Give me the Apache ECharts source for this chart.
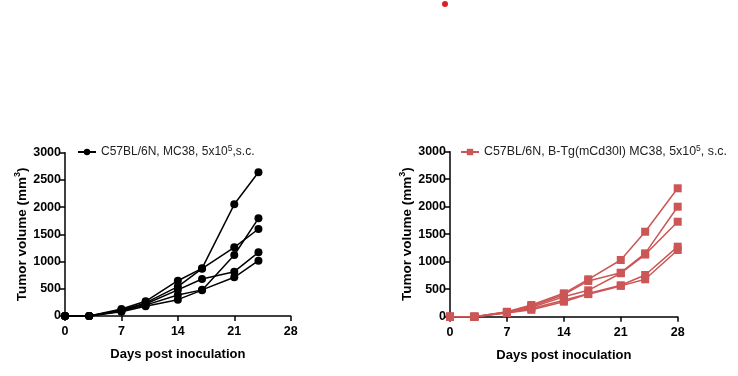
<!DOCTYPE html>
<html><head><meta charset="utf-8">
<script src="https://cdn.jsdelivr.net/npm/echarts@6/dist/echarts.min.js"></script>
<style>html,body{margin:0;padding:0;background:#fff}#c{width:738px;height:376px}</style>
</head><body><div id="c"></div>
<script>
const daysLeft = [0, 3, 7, 10, 14, 17, 21, 24];
const left1 = [0, 0, 130, 270, 648, 876, 2052, 2640];
const left2 = [0, 0, 110, 240, 540, 870, 1262, 1598];
const left3 = [0, 0, 100, 220, 480, 680, 814, 1170];
const left4 = [0, 0, 80, 180, 300, 475, 1120, 1795];
const left5 = [0, 0, 90, 200, 386, 480, 711, 1016];

const daysRight = [0, 3, 7, 10, 14, 17, 21, 24, 28];
const right1 = [0, 0, 90, 213, 425, 680, 1031, 1545, 2335];
const right2 = [0, 0, 85, 190, 400, 650, 800, 1152, 2000];
const right3 = [0, 0, 80, 170, 364, 480, 790, 1130, 1727];
const right4 = [0, 0, 70, 150, 300, 420, 571, 758, 1273];
const right5 = [0, 0, 65, 125, 273, 410, 560, 680, 1213];

const xTicks = [0, 7, 14, 21, 28];
const yTicks = [0, 500, 1000, 1500, 2000, 2500, 3000];
const leftName = 'C57BL/6N, MC38, 5x10^5,s.c.';
const rightName = 'C57BL/6N, B-Tg(mCd30l) MC38, 5x10^5, s.c.';

const BLACK = '#000';
const RED = '#cc5555';
const FONT = 'Liberation Sans, Arial, sans-serif';

function pairs(days, vals) { return days.map((d, i) => [d, vals[i]]); }

function xAxis(gi) {
  return {
    gridIndex: gi, type: 'value', min: xTicks[0], max: xTicks[xTicks.length - 1], interval: 7,
    name: 'Days post inoculation', nameLocation: 'middle', nameGap: 32,
    nameTextStyle: { fontFamily: FONT, fontWeight: 'bold', fontSize: 13, color: BLACK },
    axisLine: { lineStyle: { color: BLACK, width: 1.5 } },
    axisTick: { inside: false, length: 5, lineStyle: { color: BLACK, width: 1.5 } },
    axisLabel: { fontFamily: FONT, fontWeight: 'bold', fontSize: 12.5, color: BLACK, margin: 9,
      formatter: v => String(v) },
    splitLine: { show: false }
  };
}
function yAxis(gi) {
  return {
    gridIndex: gi, type: 'value', min: yTicks[0], max: yTicks[yTicks.length - 1], interval: 500,
    name: '{a|Tumor volume (mm}{s|3}{a|)}', nameLocation: 'middle', nameGap: 33, nameRotate: 90,
    nameTextStyle: { rich: {
      a: { fontFamily: FONT, fontWeight: 'bold', fontSize: 13.5, color: BLACK, lineHeight: 18 },
      s: { fontFamily: FONT, fontWeight: 'bold', fontSize: 9, color: BLACK, verticalAlign: 'top', lineHeight: 18 }
    } },
    axisLine: { show: true, lineStyle: { color: BLACK, width: 1.5 } },
    axisTick: { show: true, inside: false, length: 5, lineStyle: { color: BLACK, width: 1.5 } },
    axisLabel: { fontFamily: FONT, fontWeight: 'bold', fontSize: 12.5, color: BLACK, margin: 4,
      formatter: v => String(v) },
    splitLine: { show: false }
  };
}
function lineSeries(name, gi, days, vals, color, symbol) {
  return {
    name: name, type: 'line', xAxisIndex: gi, yAxisIndex: gi,
    data: pairs(days, vals), symbol: symbol, symbolSize: 8,
    lineStyle: { color: color, width: 1.5 }, itemStyle: { color: color },
    emphasis: { disabled: true }, animation: false, z: 3
  };
}
function legendFmt(name) {
  const parts = name.split('^5');
  return '{a|' + parts[0] + '}{s|5}{a|' + parts[1] + '}';
}
function legendRich(size) {
  return {
    a: { fontFamily: FONT, fontSize: size, color: '#222', lineHeight: 16 },
    s: { fontFamily: FONT, fontSize: 8.5, color: '#222', verticalAlign: 'top', lineHeight: 16 }
  };
}

const chart = echarts.init(document.getElementById('c'), null, { renderer: 'canvas' });
chart.setOption({
  animation: false,
  grid: [
    { left: 65, top: 152.7, width: 225.7, height: 163.3 },
    { left: 450, top: 151.7, width: 227.7, height: 165 }
  ],
  xAxis: [xAxis(0), xAxis(1)],
  yAxis: [yAxis(0), yAxis(1)],
  legend: [
    { data: [leftName], left: 72, top: 139, itemWidth: 18, itemHeight: 8, itemGap: 4,
      formatter: legendFmt, textStyle: { rich: legendRich(12) }, selectedMode: false },
    { data: [rightName], left: 455, top: 139, itemWidth: 18, itemHeight: 8, itemGap: 4,
      formatter: legendFmt, textStyle: { rich: legendRich(12.4) }, selectedMode: false }
  ],
  series: [
    lineSeries(leftName, 0, daysLeft, left1, BLACK, 'circle'),
    lineSeries(leftName, 0, daysLeft, left2, BLACK, 'circle'),
    lineSeries(leftName, 0, daysLeft, left3, BLACK, 'circle'),
    lineSeries(leftName, 0, daysLeft, left4, BLACK, 'circle'),
    lineSeries(leftName, 0, daysLeft, left5, BLACK, 'circle'),
    lineSeries(rightName, 1, daysRight, right1, RED, 'rect'),
    lineSeries(rightName, 1, daysRight, right2, RED, 'rect'),
    lineSeries(rightName, 1, daysRight, right3, RED, 'rect'),
    lineSeries(rightName, 1, daysRight, right4, RED, 'rect'),
    lineSeries(rightName, 1, daysRight, right5, RED, 'rect')
  ],
  graphic: [
    { type: 'circle', shape: { cx: 445, cy: 4, r: 3 }, style: { fill: '#e02020' } }
  ]
});
</script></body></html>
